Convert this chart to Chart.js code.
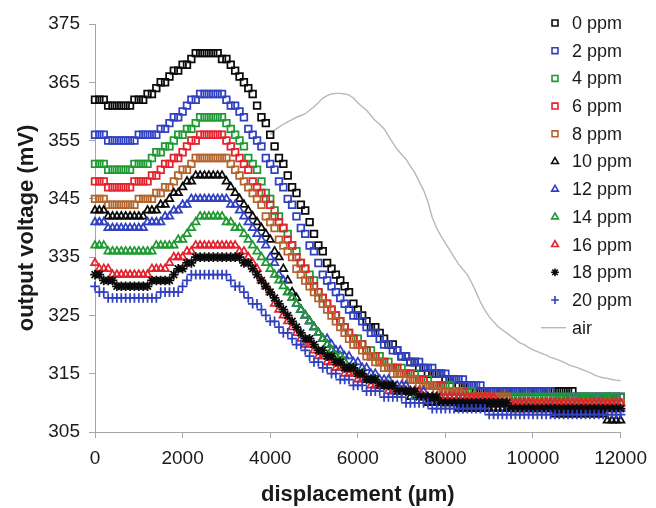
<!DOCTYPE html>
<html>
<head>
<meta charset="utf-8">
<script src="https://cdn.jsdelivr.net/npm/chart.js@4/dist/chart.umd.min.js"></script>
<style>
html,body{margin:0;padding:0;background:#fff;}
#c{display:block;}
</style>
</head>
<body>
<canvas id="c" width="656" height="508"></canvas>
<script>
// ---------------- DATA ----------------
const displacement = [
0,100,200,300,400,500,600,700,800,900,
1000,1100,1200,1300,1400,1500,1600,1700,1800,1900,
2000,2100,2200,2300,2400,2500,2600,2700,2800,2900,
3000,3100,3200,3300,3400,3500,3600,3700,3800,3900,
4000,4100,4200,4300,4400,4500,4600,4700,4800,4900,
5000,5100,5200,5300,5400,5500,5600,5700,5800,5900,
6000,6100,6200,6300,6400,6500,6600,6700,6800,6900,
7000,7100,7200,7300,7400,7500,7600,7700,7800,7900,
8000,8100,8200,8300,8400,8500,8600,8700,8800,8900,
9000,9100,9200,9300,9400,9500,9600,9700,9800,9900,
10000,10100,10200,10300,10400,10500,10600,10700,10800,10900,
11000,11100,11200,11300,11400,11500,11600,11700,11800,11900,
12000];

const ppm0 = [
362,362,362,361,361,361,361,361,361,362,
362,362,363,363,364,365,365,366,367,367,
368,368,369,370,370,370,370,370,370,369,
369,368,367,366,365,364,363,361,359,358,
356,354,352,351,349,347,346,344,343,341,
339,337,336,334,333,332,331,330,329,327,
326,325,324,323,323,322,321,320,320,319,
318,318,317,317,316,316,315,315,315,315,
314,314,314,313,313,313,313,312,312,312,
312,312,312,312,312,312,312,312,312,312,
312,312,312,312,312,312,312,312,312,312,
311,311,311,311,311,311,311,311,311,311,
311];
const ppm2 = [
356,356,356,355,355,355,355,355,355,355,
356,356,356,356,356,357,357,358,359,359,
360,361,362,362,363,363,363,363,363,363,
362,361,361,360,359,357,356,355,354,352,
351,350,348,347,345,344,342,340,339,337,
336,334,332,331,330,329,328,327,326,325,
325,324,323,322,322,321,320,320,319,319,
318,318,317,317,317,316,316,316,315,315,
315,314,314,314,314,313,313,313,313,312,
312,312,312,312,312,312,312,312,312,312,
312,312,312,312,312,311,311,311,311,311,
311,311,311,311,311,311,311,311,311,311,
311];
const ppm4 = [
351,351,351,350,350,350,350,350,350,351,
351,351,351,352,353,353,354,354,355,356,
356,357,357,358,359,359,359,359,359,359,
358,357,356,355,354,352,351,350,348,346,
345,343,342,340,339,337,336,334,333,332,
331,329,328,327,326,325,324,323,322,321,
321,320,319,319,318,318,317,317,316,316,
316,315,315,315,314,314,314,313,313,313,
313,313,312,312,312,312,312,311,311,311,
311,311,311,311,311,311,311,311,311,311,
311,311,311,311,311,311,311,311,311,311,
311,311,311,311,311,311,311,311,311,311,
311];
const ppm6 = [
348,348,348,347,347,347,347,347,347,348,
348,348,348,349,349,350,351,351,352,352,
353,354,355,355,356,356,356,356,356,356,
355,354,353,352,351,350,348,347,346,345,
344,342,341,340,338,337,335,334,333,331,
330,329,328,327,326,325,324,323,322,321,
320,320,319,318,318,317,317,316,316,316,
315,315,315,314,314,314,313,313,313,313,
312,312,312,312,312,311,311,311,311,311,
311,311,311,311,311,310,310,310,310,310,
310,310,310,310,310,310,310,310,310,310,
310,310,310,310,310,310,310,310,310,310,
310];
const ppm8 = [
345,345,345,344,344,344,344,344,344,344,
345,345,345,345,346,346,347,347,348,349,
350,350,351,352,352,352,352,352,352,352,
352,351,350,349,348,347,346,345,344,342,
341,340,338,337,336,335,333,332,331,330,
329,328,327,326,325,324,323,322,321,320,
320,319,318,318,317,317,316,316,315,315,
315,314,314,314,313,313,313,313,312,312,
312,312,312,312,311,311,311,311,311,311,
311,311,311,311,311,310,310,310,310,310,
310,310,310,310,310,310,310,310,310,310,
310,310,310,310,310,310,310,310,310,310,
310];
const ppm10 = [
343,343,343,342,342,342,342,342,342,342,
342,342,343,343,343,344,344,345,346,346,
347,348,348,349,349,349,349,349,349,349,
348,347,346,345,344,343,342,341,340,339,
338,336,335,333,331,329,328,326,325,324,
323,322,321,320,319,318,317,317,316,316,
315,315,314,314,314,313,313,313,312,312,
312,312,311,311,311,311,310,310,310,310,
310,310,310,309,309,309,309,309,309,309,
309,309,309,309,309,309,309,309,309,309,
309,309,309,309,309,308,308,308,308,308,
308,308,308,308,308,308,308,307,307,307,
307];
const ppm12 = [
341,341,341,340,340,340,340,340,340,340,
340,340,341,341,341,341,342,342,343,343,
344,344,345,345,345,345,345,345,345,345,
345,344,344,343,342,341,340,339,338,337,
335,334,332,331,329,328,327,326,325,324,
323,322,321,321,320,319,319,318,318,317,
317,316,316,315,315,314,314,314,313,313,
313,313,312,312,312,312,311,311,311,311,
311,311,311,310,310,310,310,310,310,310,
310,310,310,310,310,310,310,310,310,310,
309,309,309,309,309,309,309,309,309,309,
309,309,309,309,309,309,309,309,309,309,
309];
const ppm14 = [
337,337,337,336,336,336,336,336,336,336,
336,336,336,336,337,337,337,337,337,338,
338,339,340,341,342,342,342,342,342,342,
341,341,340,340,339,338,337,336,335,334,
333,332,331,330,329,328,327,326,325,324,
323,322,321,320,319,318,318,317,316,316,
315,315,314,314,314,313,313,313,312,312,
312,312,312,311,311,311,311,311,311,311,
311,311,311,311,311,311,311,310,310,310,
310,310,310,310,310,310,310,310,310,310,
310,310,310,310,310,310,310,310,310,310,
310,310,310,310,310,310,310,310,310,310,
310];
const ppm16 = [
334,333,333,333,332,332,332,332,332,332,
332,332,332,333,333,333,333,334,335,335,
335,336,336,337,337,337,337,337,337,337,
337,337,337,336,336,335,334,333,331,330,
329,327,326,325,324,323,322,321,320,320,
319,318,318,317,317,316,316,315,315,315,
314,314,314,313,313,313,313,312,312,312,
312,312,312,312,312,311,311,311,311,311,
311,311,311,311,311,311,311,311,311,311,
311,311,310,310,310,310,310,310,310,310,
310,310,310,310,310,310,310,310,310,310,
310,310,310,310,310,310,310,310,310,310,
310];
const ppm18 = [
332,332,331,331,331,330,330,330,330,330,
330,330,330,331,331,331,331,331,332,333,
333,334,334,335,335,335,335,335,335,335,
335,335,335,335,334,334,333,332,331,330,
329,328,327,326,325,324,323,322,321,321,
320,319,319,318,318,317,317,316,316,316,
315,315,314,314,314,313,313,313,313,312,
312,312,312,312,311,311,311,311,311,310,
310,310,310,310,310,310,310,310,310,310,
310,310,310,310,310,309,309,309,309,309,
309,309,309,309,309,309,309,309,309,309,
309,309,309,309,309,309,309,309,309,309,
309];
const ppm20 = [
330,329,329,328,328,328,328,328,328,328,
328,328,328,328,328,329,329,329,329,329,
330,331,332,332,332,332,332,332,332,332,
332,331,330,330,329,328,327,327,326,325,
324,324,323,322,322,321,320,320,319,318,
317,317,316,316,315,315,314,314,314,313,
313,313,312,312,312,312,311,311,311,311,
311,310,310,310,310,310,310,309,309,309,
309,309,309,309,309,309,309,309,309,309,
308,308,308,308,308,308,308,308,308,308,
308,308,308,308,308,308,308,308,308,308,
308,308,308,308,308,308,308,308,308,308,
308];
const air = [
null,null,null,null,null,null,null,null,null,null,
null,null,null,null,null,null,null,null,null,null,
null,null,null,null,null,null,null,null,null,null,
null,null,null,null,null,null,null,null,null,null,
356.0,356.8,357.3,357.8,358.2,358.6,359.0,359.3,359.6,360.2,
360.8,361.5,362.3,362.7,363.0,363.1,363.1,363.0,362.8,362.3,
361.5,360.8,360.2,359.3,358.4,357.8,357.0,355.8,354.6,353.5,
352.6,351.8,350.6,349.5,348.0,346.5,344.5,341.8,340.0,338.6,
337.4,336.2,335.0,333.8,332.9,332.0,330.6,329.0,327.3,325.9,
324.8,323.9,323.1,322.5,322.0,321.4,320.9,320.3,320.0,319.5,
319.1,318.8,318.5,318.2,317.8,317.6,317.3,317.0,316.6,316.3,
316.1,315.8,315.5,315.2,314.8,314.5,314.3,314.2,314.0,313.9,
313.8];

const seriesLabels = ['0 ppm','2 ppm','4 ppm','6 ppm','8 ppm','10 ppm','12 ppm','14 ppm','16 ppm','18 ppm','20 ppm'];
const seriesValues = [ppm0,ppm2,ppm4,ppm6,ppm8,ppm10,ppm12,ppm14,ppm16,ppm18,ppm20];
const xTickValues = [0,2000,4000,6000,8000,10000,12000];
const yTickValues = [305,315,325,335,345,355,365,375];

// ---------------- STYLE ----------------
const BLACK='#0a0a0a', BLUE='#3040c0', GREEN='#1f9a33', RED='#e3222d', BROWN='#b3642c', GRAY='#b8b8b8';
const seriesColors = [BLACK,BLUE,GREEN,RED,BROWN,BLACK,BLUE,GREEN,RED,BLACK,BLUE];
const seriesStyles = ['rect','rect','rect','rect','rect','triangle','triangle','triangle','triangle','star','cross'];
const styleRadius = {rect:4.7, triangle:4.4, star:4.8, cross:4.8};
const FONT = '"Liberation Sans", Arial, Helvetica, sans-serif';

const pts = ys => displacement.map((x,i)=>({x:x, y:ys[i]}));

const datasets = seriesValues.map((ys,i)=>({
  label: seriesLabels[i],
  data: pts(ys),
  showLine: false,
  pointStyle: seriesStyles[i],
  pointRadius: styleRadius[seriesStyles[i]],
  pointHoverRadius: styleRadius[seriesStyles[i]],
  pointBorderWidth: 1.75,
  borderWidth: 1.75,
  pointBorderColor: seriesColors[i],
  borderColor: seriesColors[i],
  pointBackgroundColor: 'rgba(0,0,0,0)',
  backgroundColor: 'rgba(0,0,0,0)',
  order: 10 - i,
  clip: false
}));
datasets.push({
  label: 'air',
  data: pts(air),
  showLine: true,
  spanGaps: false,
  pointRadius: 0,
  pointHoverRadius: 0,
  borderColor: GRAY,
  borderWidth: 1.4,
  backgroundColor: GRAY,
  tension: 0,
  order: 20,
  clip: false
});

// custom legend drawn inside the plot, top-right
function drawMarker(ctx, style, x, y, r) {
  ctx.beginPath();
  if (style === 'rect') {
    const s = Math.SQRT1_2 * r;
    ctx.rect(x - s, y - s, 2*s, 2*s);
  } else if (style === 'triangle') {
    for (let k=0;k<3;k++){
      const a = -Math.PI/2 + k*2*Math.PI/3;
      const px = x + Math.cos(a)*r, py = y + Math.sin(a)*r;
      if (k===0) ctx.moveTo(px,py); else ctx.lineTo(px,py);
    }
    ctx.closePath();
  } else if (style === 'star') {
    for (let k=0;k<4;k++){
      const a = k*Math.PI/4;
      ctx.moveTo(x + Math.cos(a)*r, y + Math.sin(a)*r);
      ctx.lineTo(x - Math.cos(a)*r, y - Math.sin(a)*r);
    }
  } else if (style === 'cross') {
    ctx.moveTo(x - r, y); ctx.lineTo(x + r, y);
    ctx.moveTo(x, y - r); ctx.lineTo(x, y + r);
  }
  ctx.stroke();
}

const sideLegend = {
  id: 'sideLegend',
  afterDraw(chart) {
    const ctx = chart.ctx;
    const markX = 555, textX = 572, top = 23, step = 27.7;
    ctx.save();
    ctx.font = '18px ' + FONT;
    ctx.textBaseline = 'middle';
    ctx.textAlign = 'left';
    chart.data.datasets.forEach((ds, i) => {
      const y = top + i*step;
      ctx.strokeStyle = ds.borderColor;
      ctx.lineWidth = 1.6;
      if (ds.showLine) {
        ctx.lineWidth = ds.borderWidth;
        ctx.beginPath(); ctx.moveTo(541, y); ctx.lineTo(566, y); ctx.stroke();
      } else {
        drawMarker(ctx, ds.pointStyle, markX, y, ds.pointStyle==='rect'?4.2:3.9);
      }
      ctx.fillStyle = '#1a1a1a';
      ctx.fillText(ds.label, textX, y + 1);
    });
    ctx.restore();
  }
};

const AXIS_GRAY = '#a6a6a6';

new Chart(document.getElementById('c'), {
  type: 'scatter',
  data: { datasets },
  plugins: [sideLegend],
  options: {
    responsive: false,
    animation: false,
    devicePixelRatio: 1,
    layout: { padding: { top: 24, right: 29, left: 0, bottom: 0 } },
    plugins: { legend: { display: false }, tooltip: { enabled: false } },
    scales: {
      x: {
        type: 'linear',
        min: 0, max: 12000,
        afterBuildTicks: s => { s.ticks = xTickValues.map(v => ({value: v})); },
        ticks: { color: '#1a1a1a', font: { family: FONT, size: 19 }, padding: 9, maxRotation: 0,
                 callback: v => String(v) },
        grid: { drawOnChartArea: false, drawTicks: true, tickLength: 6, color: AXIS_GRAY, lineWidth: 1 },
        border: { color: AXIS_GRAY, width: 1 },
        title: { display: true, text: 'displacement (µm)', color: '#1a1a1a',
                 font: { family: FONT, size: 22, weight: 'bold' }, padding: { top: 0, bottom: 0 } },
        afterFit: s => { s.height = 76; }
      },
      y: {
        type: 'linear',
        min: 305, max: 375,
        afterBuildTicks: s => { s.ticks = yTickValues.map(v => ({value: v})); },
        ticks: { color: '#1a1a1a', font: { family: FONT, size: 19 }, padding: 9,
                 callback: v => String(v) },
        grid: { drawOnChartArea: false, drawTicks: true, tickLength: 6, color: AXIS_GRAY, lineWidth: 1 },
        border: { color: AXIS_GRAY, width: 1 },
        title: { display: true, text: 'output voltage (mV)', color: '#1a1a1a',
                 font: { family: FONT, size: 22, weight: 'bold' }, padding: { top: 14, bottom: 0 } },
        afterFit: s => { s.width = 95; }
      }
    }
  }
});
</script>
</body>
</html>
